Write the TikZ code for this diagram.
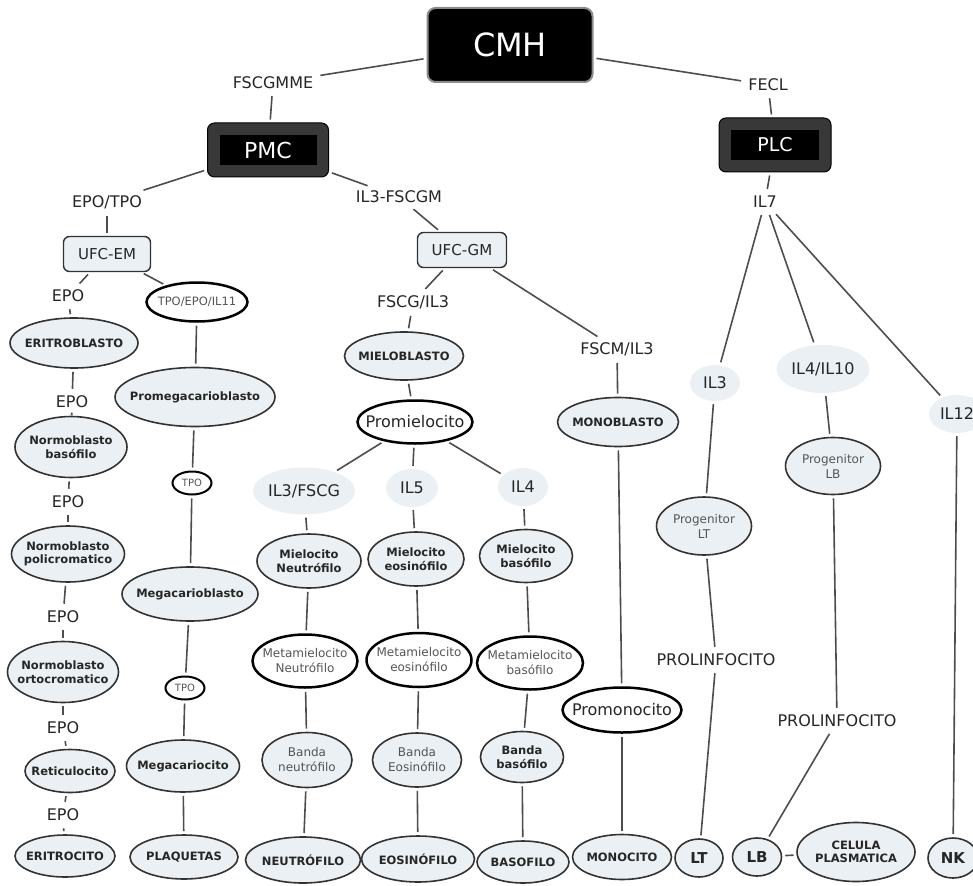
\documentclass[tikz,border=0pt]{standalone}
\usepackage{fontspec}
\setmainfont{DejaVu Sans}
\usepackage{tikz}
\usetikzlibrary{shapes.geometric}
\definecolor{cellfill}{HTML}{EAF0F3}
\definecolor{edge}{HTML}{333333}
\definecolor{link}{HTML}{4D4D4D}
\definecolor{txt}{HTML}{262626}
\definecolor{mutetxt}{HTML}{555555}

\begin{document}
\begin{tikzpicture}[x=1pt, y=-1pt,
  topbox/.style={rectangle, rounded corners=8pt, fill=black, draw=black!45, line width=2pt, text=white, inner sep=0pt, font=\fontsize{32}{36}\selectfont},
  hub/.style={rectangle, rounded corners=7pt, fill=black!78, draw=black, line width=1pt, text=white, inner sep=0pt,
    path picture={\fill[black, sharp corners] ([shift={(12pt,12pt)}]path picture bounding box.south west) rectangle ([shift={(-12pt,-12pt)}]path picture bounding box.north east);}},
  factor/.style={inner sep=4pt, text=txt, font=\fontsize{16}{18}\selectfont},
  prog/.style={rectangle, rounded corners=6pt, draw=edge, fill=cellfill, line width=1.4pt, text=txt, font=\fontsize{15}{17}\selectfont},
  cell/.style={ellipse, draw=edge, fill=cellfill, line width=1.6pt, text=txt, align=center, inner xsep=-20pt, inner ysep=-8pt, font=\fontsize{11.5}{13.5}\selectfont\bfseries},
  faded/.style={text=mutetxt, font=\fontsize{12}{15}\selectfont},
  stage/.style={cell, draw=black, line width=2.5pt, fill=white, font=\fontsize{16}{18}\selectfont},
  soft/.style={ellipse, fill=cellfill, text=txt, inner xsep=-20pt, inner ysep=-8pt, font=\fontsize{16}{18}\selectfont},
  wh/.style 2 args={minimum width=#1pt, minimum height=#2pt},
  rel/.style={draw=link, line width=1.6pt, shorten <=3pt, shorten >=3pt}
]
\useasboundingbox (0,0) rectangle (973,885);

% roots
\node[topbox, wh={165}{74}] (cmh) at (510,45) {CMH};
\node[factor] (fscgmme) at (273,83) {FSCGMME};
\node[factor] (fecl) at (768,85) {FECL};
\node[hub, wh={121}{54}, font=\fontsize{22}{24}\selectfont] (pmc) at (268,150) {PMC};
\node[hub, wh={112}{54}, font=\fontsize{19}{22}\selectfont] (plc) at (775,145) {PLC};
\node[factor] (epotpo) at (107,202) {EPO/TPO};
\node[factor] (il3fscgm) at (399,197) {IL3-FSCGM};
\node[factor] (il7) at (765,202) {IL7};
\node[prog, wh={87}{35}] (ufcem) at (107,254) {UFC-EM};
\node[prog, wh={89}{35}] (ufcgm) at (462,250) {UFC-GM};

% erythroid line
\node[factor] (epo1) at (68,296) {EPO};
\node[cell, wh={128}{50}] (eritrob) at (74,343) {ERITROBLASTO};
\node[factor] (epo2) at (72,402) {EPO};
\node[cell, wh={112}{61}] (nbaso) at (71,447) {Normoblasto\\basófilo};
\node[factor] (epo3) at (68,502) {EPO};
\node[cell, wh={113}{56}] (npoli) at (68,554) {Normoblasto\\policromatico};
\node[factor] (epo4) at (63,617) {EPO};
\node[cell, wh={111}{61}] (norto) at (63,672) {Normoblasto\\ortocromatico};
\node[factor] (epo5) at (63,728) {EPO};
\node[cell, wh={90}{43}] (retic) at (70,771) {Reticulocito};
\node[factor] (epo6) at (63,815) {EPO};
\node[cell, wh={100}{42}] (eritroc) at (65,856) {ERITROCITO};

% megakaryocyte line
\node[stage, wh={101}{39}, text=mutetxt, font=\fontsize{11.5}{13}\selectfont] (tpoepo) at (197,302) {TPO/EPO/IL11};
\node[cell, wh={160}{59}] (promeg) at (195,397) {Promegacarioblasto};
\node[stage, wh={39}{23}, line width=2pt, text=mutetxt, font=\fontsize{10}{11}\selectfont] (tpo1) at (192,483) {TPO};
\node[cell, wh={136}{54}] (megab) at (190,594) {Megacarioblasto};
\node[stage, wh={39}{23}, line width=2pt, text=mutetxt, font=\fontsize{10}{11}\selectfont] (tpo2) at (185,688) {TPO};
\node[cell, wh={113}{52}] (megac) at (183,766) {Megacariocito};
\node[cell, wh={108}{44}] (plaq) at (184,857) {PLAQUETAS};

% granulocyte line
\node[factor] (fscgil3) at (413,302) {FSCG/IL3};
\node[cell, wh={119}{48}] (mieloblasto) at (404,356) {MIELOBLASTO};
\node[stage, wh={115}{43}] (promiel) at (415,422) {Promielocito};
\node[soft, wh={102}{47}] (il3fscg) at (304,491) {IL3/FSCG};
\node[soft, wh={52}{38}] (il5) at (412,488) {IL5};
\node[soft, wh={50}{38}] (il4) at (523,487) {IL4};
\node[cell, wh={104}{54}] (mneu) at (309,561) {Mielocito\\Neutrófilo};
\node[cell, wh={96}{54}] (meos) at (416,559) {Mielocito\\eosinófilo};
\node[cell, wh={93}{53}] (mbas) at (526,556) {Mielocito\\basófilo};
\node[stage, faded, wh={105}{53}] (mmneu) at (305,661) {Metamielocito\\Neutrófilo};
\node[stage, faded, wh={105}{54}] (mmeos) at (419,660) {Metamielocito\\eosinófilo};
\node[stage, faded, wh={106}{53}] (mmbas) at (530,663) {Metamielocito\\basófilo};
\node[cell, faded, wh={90}{55}] (bneu) at (307,760) {Banda\\neutrófilo};
\node[cell, faded, wh={89}{54}] (beos) at (417,760) {Banda\\Eosinófilo};
\node[cell, wh={83}{51}] (bbas) at (522,757) {Banda\\basófilo};
\node[cell, wh={115}{46}] (neutro) at (303,860) {NEUTRÓFILO};
\node[cell, wh={113}{46}] (eosino) at (418,859) {EOSINÓFILO};
\node[cell, wh={92}{42}] (basof) at (523,862) {BASOFILO};

% monocyte line
\node[factor] (fscmil3) at (617,349) {FSCM/IL3};
\node[cell, wh={121}{49}] (monob) at (618,422) {MONOBLASTO};
\node[stage, wh={119}{45}] (promono) at (622,710) {Promonocito};
\node[cell, wh={99}{45}] (monoc) at (622,857) {MONOCITO};

% lymphoid line
\node[soft, wh={50}{36}] (il3b) at (715,383) {IL3};
\node[soft, wh={93}{48}] (il410) at (823,369) {IL4/IL10};
\node[soft, wh={56}{38}] (il12) at (957,414) {IL12};
\node[cell, faded, wh={95}{58}] (proglt) at (704,526) {Progenitor\\LT};
\node[cell, faded, wh={95}{57}] (proglb) at (833,466) {Progenitor\\LB};
\node[factor] (prolin1) at (716,660) {PROLINFOCITO};
\node[factor] (prolin2) at (837,721) {PROLINFOCITO};
\node[cell, wh={48}{38}, font=\fontsize{15}{17}\selectfont\bfseries] (lt) at (699,858) {LT};
\node[cell, wh={49}{38}, font=\fontsize{15}{17}\selectfont\bfseries] (lb) at (757,857) {LB};
\node[cell, wh={118}{59}] (celpla) at (856,852) {CELULA\\PLASMATICA};
\node[cell, wh={50}{40}, font=\fontsize{15}{17}\selectfont\bfseries] (nk) at (953,858) {NK};

% connectors
\draw[rel] (cmh) -- (fscgmme);
\draw[rel] (cmh) -- (fecl);
\draw[rel] (fscgmme) -- (pmc);
\draw[rel] (fecl) -- (plc);
\draw[rel] (pmc) -- (epotpo);
\draw[rel] (pmc) -- (il3fscgm);
\draw[rel] (plc) -- (il7);
\draw[rel] (epotpo) -- (ufcem);
\draw[rel] (il3fscgm) -- (ufcgm);

\draw[rel] (ufcem) -- (epo1);
\draw[rel] (epo1) -- (eritrob);
\draw[rel] (eritrob) -- (epo2);
\draw[rel] (epo2) -- (nbaso);
\draw[rel] (nbaso) -- (epo3);
\draw[rel] (epo3) -- (npoli);
\draw[rel] (npoli) -- (epo4);
\draw[rel] (epo4) -- (norto);
\draw[rel] (norto) -- (epo5);
\draw[rel] (epo5) -- (retic);
\draw[rel] (retic) -- (epo6);
\draw[rel] (epo6) -- (eritroc);

\draw[rel] (ufcem) -- (tpoepo);
\draw[rel] (tpoepo) -- (promeg);
\draw[rel] (promeg) -- (tpo1);
\draw[rel] (tpo1) -- (megab);
\draw[rel] (megab) -- (tpo2);
\draw[rel] (tpo2) -- (megac);
\draw[rel] (megac) -- (plaq);

\draw[rel] (ufcgm) -- (fscgil3);
\draw[rel] (fscgil3) -- (mieloblasto);
\draw[rel] (mieloblasto) -- (promiel);
\draw[rel] (promiel) -- (il3fscg);
\draw[rel] (promiel) -- (il5);
\draw[rel] (promiel) -- (il4);
\draw[rel] (il3fscg) -- (mneu);
\draw[rel] (il5) -- (meos);
\draw[rel] (il4) -- (mbas);
\draw[rel] (mneu) -- (mmneu);
\draw[rel] (meos) -- (mmeos);
\draw[rel] (mbas) -- (mmbas);
\draw[rel] (mmneu) -- (bneu);
\draw[rel] (mmeos) -- (beos);
\draw[rel] (mmbas) -- (bbas);
\draw[rel] (bneu) -- (neutro);
\draw[rel] (beos) -- (eosino);
\draw[rel] (bbas) -- (basof);

\draw[rel] (ufcgm) -- (fscmil3);
\draw[rel] (fscmil3) -- (monob);
\draw[rel] (monob) -- (promono);
\draw[rel] (promono) -- (monoc);

\draw[rel] (il7) -- (il3b);
\draw[rel] (il7) -- (il410);
\draw[rel] (il7) -- (il12);
\draw[rel] (il3b) -- (proglt);
\draw[rel] (il410) -- (proglb);
\draw[rel] (proglt) -- (prolin1);
\draw[rel] (prolin1) -- (lt);
\draw[rel] (proglb) -- (prolin2);
\draw[rel] (prolin2) -- (lb);
\draw[rel] (lb) -- (celpla);
\draw[rel] (il12) -- (nk);
\end{tikzpicture}
\end{document}
